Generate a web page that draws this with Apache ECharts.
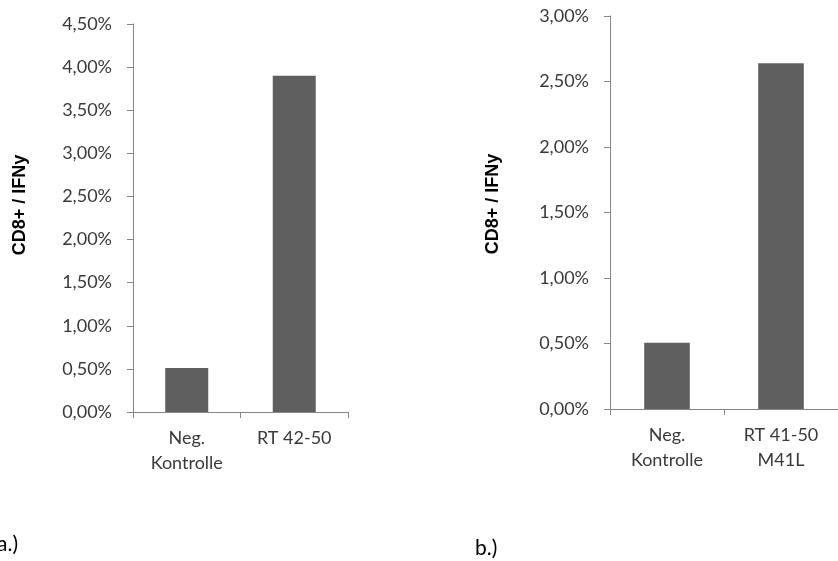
<!DOCTYPE html>
<html>
<head>
<meta charset="utf-8">
<script src="https://cdn.jsdelivr.net/npm/echarts@6/dist/echarts.min.js"></script>
<style>
  html, body { margin: 0; padding: 0; background: #fff; }
  #chart { width: 838px; height: 561px; }
</style>
</head>
<body>
<div id="chart"></div>
<script>
// Panel a.) : CD8+ / IFNy share per stimulation (percent)
const categoriesA = ['Neg.\nKontrolle', 'RT 42-50'];
const valuesA = [0.51, 3.90];
const yTicksA = { min: 0, max: 4.5, interval: 0.5 };

// Panel b.)
const categoriesB = ['Neg.\nKontrolle', 'RT 41-50\nM41L'];
const valuesB = [0.505, 2.64];
const yTicksB = { min: 0, max: 3.0, interval: 0.5 };

const yTitle = 'CD8+ / IFNy';
const panelLabels = ['a.)', 'b.)'];

const axisGray = '#868686';
const textGray = '#3a3a3a';
const barColor = '#5f5f5f';
const labelFont = 'Lato, "Open Sans", sans-serif';
const titleFont = 'bold 18px "Liberation Sans", Arial, sans-serif';

const pct = v => v.toFixed(2).replace('.', ',') + '%';

function xAxisFor(cats, gridIndex) {
  return {
    type: 'category',
    gridIndex,
    data: cats,
    boundaryGap: true,
    axisLine: { lineStyle: { color: axisGray, width: 1 } },
    axisTick: { show: true, length: 6, lineStyle: { color: axisGray } },
    axisLabel: {
      color: textGray, fontFamily: labelFont, fontSize: 18,
      lineHeight: 25, margin: 14, interval: 0
    }
  };
}

function yAxisFor(t, gridIndex) {
  return {
    type: 'value',
    gridIndex,
    min: t.min, max: t.max, interval: t.interval,
    axisLine: { show: true, lineStyle: { color: axisGray, width: 1 } },
    axisTick: { show: true, length: 6, lineStyle: { color: axisGray } },
    splitLine: { show: false },
    axisLabel: {
      color: textGray, fontFamily: labelFont, fontSize: 18,
      margin: 21, formatter: pct
    }
  };
}

function yTitleText(x, y) {
  return {
    type: 'text', rotation: Math.PI / 2, x, y,
    style: {
      text: yTitle, fill: '#000', font: titleFont,
      align: 'center', verticalAlign: 'middle'
    }
  };
}

function panelText(text, x, y) {
  return {
    type: 'text', x, y,
    style: {
      text, fill: '#000', font: '21px ' + labelFont,
      align: 'left', verticalAlign: 'middle'
    }
  };
}

const chart = echarts.init(document.getElementById('chart'), null, { renderer: 'canvas' });

chart.setOption({
  animation: false,
  backgroundColor: '#ffffff',
  grid: [
    { left: 133, top: 24, width: 215, height: 388 },
    { left: 610, top: 16, width: 238, height: 393 }
  ],
  xAxis: [xAxisFor(categoriesA, 0), xAxisFor(categoriesB, 1)],
  yAxis: [yAxisFor(yTicksA, 0), yAxisFor(yTicksB, 1)],
  series: [
    {
      type: 'bar', xAxisIndex: 0, yAxisIndex: 0,
      data: valuesA, barWidth: '40%',
      itemStyle: { color: barColor }
    },
    {
      type: 'bar', xAxisIndex: 1, yAxisIndex: 1,
      data: valuesB, barWidth: '40%',
      itemStyle: { color: barColor }
    }
  ],
  graphic: [
    yTitleText(20, 205),
    yTitleText(493, 204),
    panelText(panelLabels[0], -3, 544),
    panelText(panelLabels[1], 475, 548)
  ]
});
</script>
</body>
</html>
